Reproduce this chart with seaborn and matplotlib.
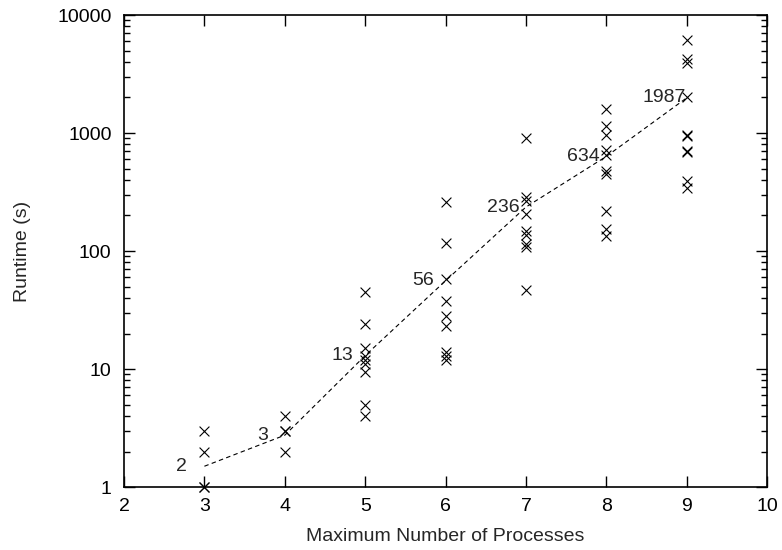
import numpy as np
import pandas as pd
import matplotlib
matplotlib.use("Agg")
import matplotlib.pyplot as plt
import seaborn as sns
from matplotlib.ticker import LogLocator, FixedLocator, NullFormatter

# runtimes per maximum number of processes
procs = [3, 3, 3, 3,
         4, 4, 4, 4,
         5, 5, 5, 5, 5, 5, 5, 5, 5,
         6, 6, 6, 6, 6, 6, 6, 6, 6,
         7, 7, 7, 7, 7, 7, 7, 7, 7,
         8, 8, 8, 8, 8, 8, 8, 8, 8, 8,
         9, 9, 9, 9, 9, 9, 9, 9, 9, 9]
runtimes = [3, 2, 1, 1,
            4, 3, 3, 2,
            45, 24, 15, 13, 12, 11, 9.5, 5, 4,
            260, 118, 58, 38, 28, 23, 14, 13, 12,
            900, 285, 265, 205, 148, 138, 115, 108, 47,
            1600, 1150, 970, 720, 650, 480, 450, 220, 155, 135,
            6200, 4200, 3900, 2000, 970, 950, 710, 690, 390, 345]

# dashed trend line and its labels
trend_procs = [3, 4, 5, 6, 7, 8, 9]
trend_values = [1.5, 2.75, 13, 56, 236, 634, 1987]
trend_labels = ["2", "3", "13", "56", "236", "634", "1987"]

sns.set_theme(style="ticks")
plt.rcParams["font.family"] = ["Liberation Sans", "DejaVu Sans"]
FS = 14

fig = plt.figure(figsize=(7.82, 5.5), dpi=100)
ax = fig.add_axes([0.1586, 0.1145, 0.8224, 0.8582])

points = pd.DataFrame({"procs": procs, "runtime": runtimes})
trend = pd.DataFrame({"procs": trend_procs, "runtime": trend_values})

sns.lineplot(data=trend, x="procs", y="runtime", ax=ax, color="black",
             linestyle=(0, (4, 3)), linewidth=0.8)
sns.scatterplot(data=points, x="procs", y="runtime", ax=ax, marker="x",
                color="black", s=50, linewidth=0.8, clip_on=False, zorder=3)

for x, y, lab in zip(trend_procs, trend_values, trend_labels):
    ax.text(x - 0.28, y, lab, ha="center", va="center", fontsize=FS)

ax.set_yscale("log")
ax.set_xlim(2, 10)
ax.set_ylim(1, 10000)
ax.xaxis.set_major_locator(FixedLocator(range(2, 11)))
ax.yaxis.set_major_locator(FixedLocator([1, 10, 100, 1000, 10000]))
ax.set_yticklabels(["1", "10", "100", "1000", "10000"])
ax.yaxis.set_minor_locator(LogLocator(base=10, subs=np.arange(2, 10)))
ax.yaxis.set_minor_formatter(NullFormatter())

ax.tick_params(which="both", direction="in", top=True, right=True,
               labelsize=FS, colors="black")
ax.tick_params(which="major", length=8, width=1)
ax.tick_params(which="minor", length=4, width=1)
ax.tick_params(axis="x", which="major", pad=8)
ax.tick_params(axis="y", which="major", pad=9)
for sp in ax.spines.values():
    sp.set_linewidth(1.2)
    sp.set_color("black")

ax.set_xlabel("Maximum Number of Processes", fontsize=FS, labelpad=9)
ax.set_ylabel("Runtime (s)", fontsize=FS, labelpad=19)

fig.savefig("out.png", dpi=100)
